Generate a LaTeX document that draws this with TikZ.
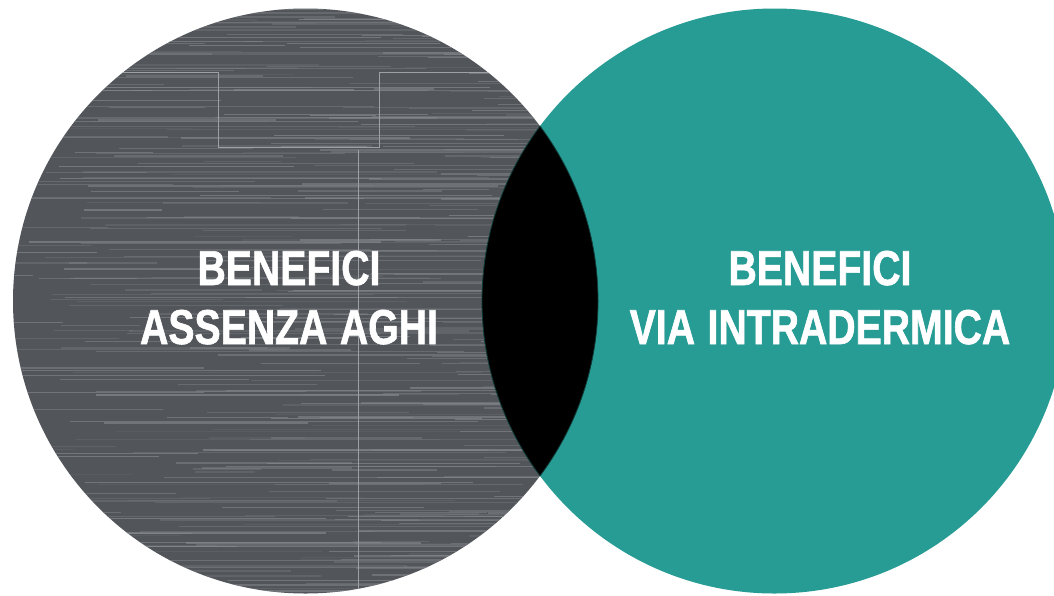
\documentclass[tikz,border=0pt]{standalone}
\usepackage{fontspec}
\newfontfamily\condfont[FakeStretch=0.8,FakeBold=1.2,WordSpace=1.15]{Liberation Sans Bold}
\definecolor{graybase}{HTML}{52565A}
\definecolor{streak}{HTML}{8C9094}
\definecolor{tealc}{HTML}{279C94}
\tikzset{
  label text/.style={text=white, font=\condfont\fontsize{49}{60}\selectfont, align=center, inner sep=0pt},
  artifact/.style={draw=streak!85, line width=0.7pt}
}
\begin{document}
\begin{tikzpicture}[x=1pt,y=-1pt]
\useasboundingbox (0,0) rectangle (1054,595);
\clip (0,0) rectangle (1054,595);
% right circle
\fill[tealc] (774.5,301) circle (292.5);
% left circle with texture
\begin{scope}
  \clip (305.5,301) circle (292.5);
  \fill[graybase] (0,0) rectangle (620,595);
  \pgfmathsetseed{11}
  \foreach \i in {1,...,420}{
    \pgfmathsetmacro{\yy}{8+587*rnd}
    \pgfmathsetmacro{\xs}{-40+560*rnd}
    \pgfmathsetmacro{\ll}{60+380*rnd}
    \pgfmathsetmacro{\op}{0.12+0.5*rnd}
    \pgfmathsetmacro{\lw}{0.5+1.4*rnd}
    \draw[streak, opacity=\op, line width=\lw pt] (\xs,\yy) -- ++(\ll,0);
  }
  \draw[artifact] (0,72) -- (218,72) -- (218,147) -- (379,147) -- (379,72) -- (620,72);
  \draw[artifact] (358,150) -- (358,595);
\end{scope}
% lens
\begin{scope}
  \clip (305.5,301) circle (292.5);
  \fill[black] (774.5,301) circle (292.5);
  \draw[tealc!40!black, line width=0.8pt] (774.5,301) circle (292.5);
\end{scope}
\begin{scope}
  \clip (774.5,301) circle (292.5);
  \draw[tealc!40!black, line width=0.8pt] (305.5,301) circle (292.5);
\end{scope}
% texts
\node[label text, anchor=base] (l1) at (289,285) {BENEFICI};
\node[label text, anchor=base] (l2) at (289,344) {ASSENZA AGHI};
\node[label text, anchor=base] (r1) at (820,285) {BENEFICI};
\node[label text, anchor=base] (r2) at (820,344) {VIA INTRADERMICA};
\end{tikzpicture}
\end{document}
